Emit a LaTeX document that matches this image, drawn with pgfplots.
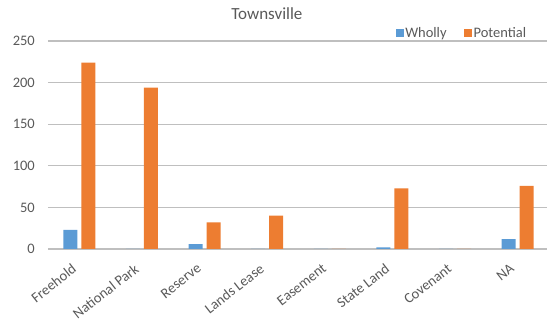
\documentclass[border=0pt]{standalone}
\usepackage{pgfplots}
\pgfplotsset{compat=1.18}
\usepackage{fontspec}
\setmainfont{Carlito}
\definecolor{wblue}{HTML}{5B9BD5}
\definecolor{porange}{HTML}{ED7D31}
\definecolor{txtgray}{HTML}{595959}
\definecolor{gridgray}{HTML}{BFBFBF}
\begin{document}
\begin{tikzpicture}
\begin{axis}[
  at={(0,0)}, anchor=south west,
  scale only axis,
  width=501pt, height=208pt,
  ymin=0, ymax=250,
  xmin=-0.5, xmax=7.5,
  ytick={0,50,100,150,200,250},
  xtick={0,1,2,3,4,5,6,7},
  xticklabels={Freehold,National Park,Reserve,Lands Lease,Easement,State Land,Covenant,NA},
  x tick label style={xshift=-8.3pt, yshift=-13.8pt, rotate=38, anchor=north east, font=\fontsize{14.5}{16}\selectfont, text=txtgray, inner sep=0pt},
  y tick label style={font=\fontsize{14.5}{16}\selectfont, text=txtgray, inner sep=0pt, xshift=-13pt},
  /pgf/number format/assume math mode=true,
  axis line style={draw=none},
  major tick length=0pt,
  ymajorgrids,
  grid style={gridgray, line width=1.3pt},
  ybar, bar width=14pt,
  legend style={at={(rel axis cs:0.958,1.038)}, anchor=east, legend columns=2, draw=none, fill=none, inner sep=0pt, font=\fontsize{14.5}{16}\selectfont, text=txtgray, nodes={inner sep=1.5pt}, /tikz/every even column/.append style={column sep=16pt}},
  legend image code/.code={\fill[#1] (0pt,-4pt) rectangle (8pt,4pt);},
  clip=false,
]
\addplot[fill=wblue, draw=none, bar shift=-9pt] coordinates {(0,23) (1,0) (2,6) (3,0) (4,0) (5,2) (6,0) (7,12)};
\addplot[fill=porange, draw=none, bar shift=9pt] coordinates {(0,224) (1,194) (2,32) (3,40) (4,0) (5,73) (6,0) (7,76)};
\legend{Wholly,Potential}
\node[font=\fontsize{17}{20}\selectfont, text=txtgray] at (rel axis cs:0.437,1.13) {Townsville};
\end{axis}
\pgfresetboundingbox
\path[use as bounding box] (-48pt,-75pt) rectangle (499pt,249pt);
\end{tikzpicture}
\end{document}
